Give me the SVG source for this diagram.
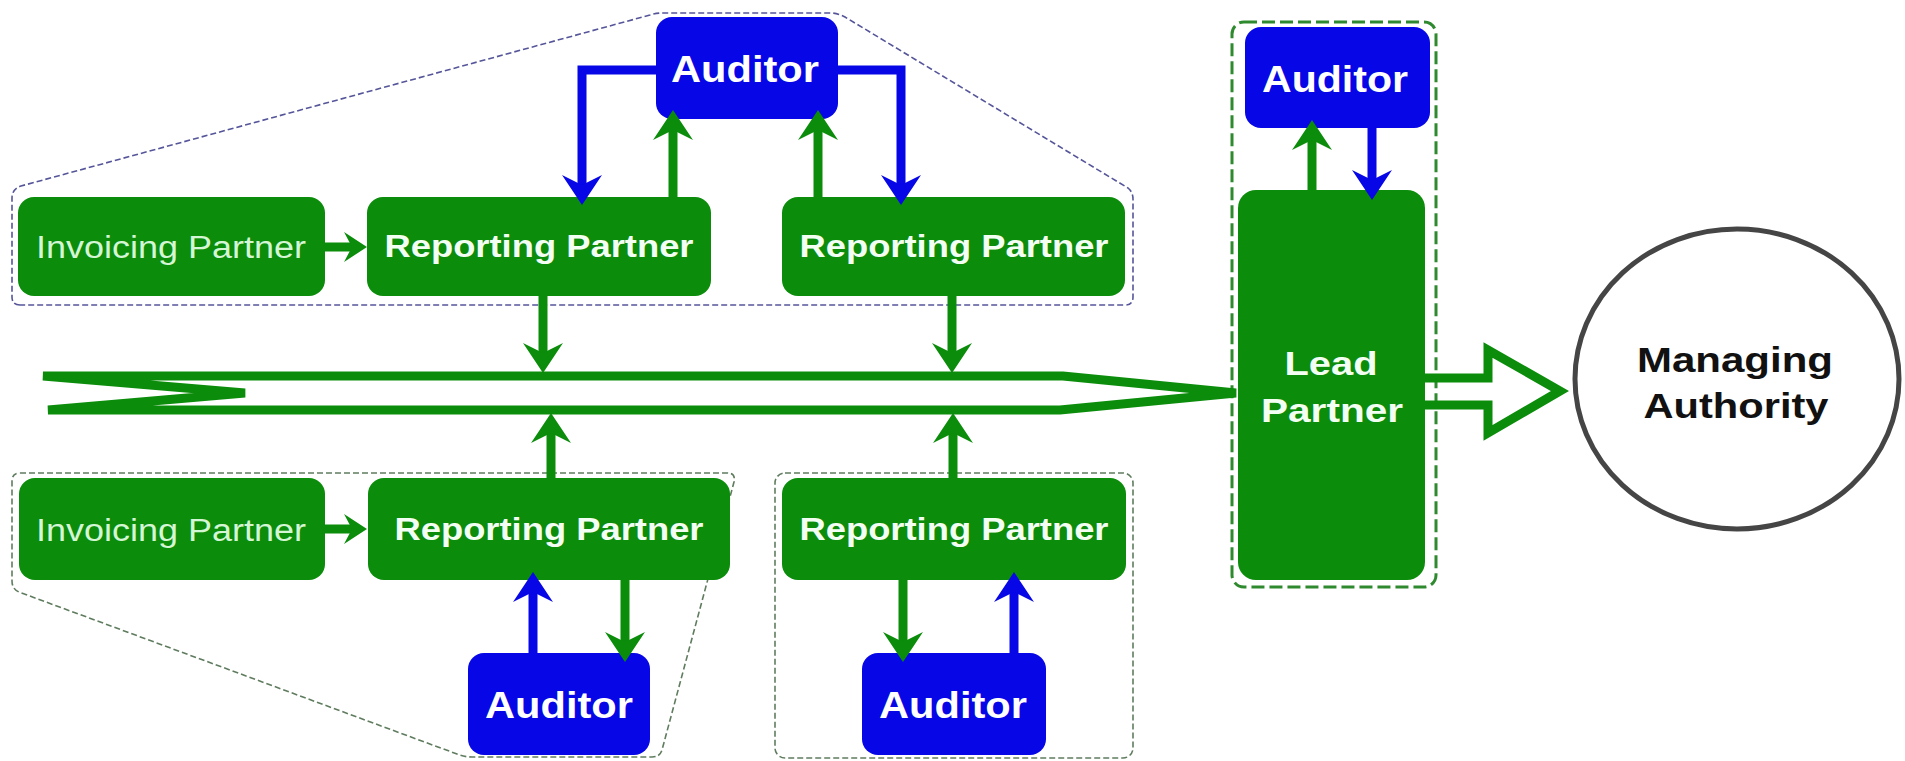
<svg xmlns="http://www.w3.org/2000/svg" width="1905" height="761" viewBox="0 0 1905 761">
  <style>
    .partner { fill: #0b8c0b; }
    .auditor { fill: #0606e6; }
    .t { font-family: "Liberation Sans", Arial, sans-serif; text-anchor: middle; }
    .tb { font-weight: bold; fill: #f4fff4; }
    .tr { font-weight: normal; fill: #d4f6d4; }
    .ta { font-weight: bold; fill: #ffffff; }
    .tm { font-weight: bold; fill: #111111; }
    .g { stroke: #0b8c0b; stroke-width: 9; fill: none; }
    .b { stroke: #0606e6; stroke-width: 9; fill: none; }
    .ga { marker-end: url(#arrow-g); }
    .ba { marker-end: url(#arrow-b); }
    .gs { marker-end: url(#arrow-gs); }
    .zone-blue { fill: none; stroke: #55559a; stroke-width: 1.6; stroke-dasharray: 6 3; }
    .zone-grey { fill: none; stroke: #5f7c5f; stroke-width: 1.6; stroke-dasharray: 6 3; }
    .zone-lead { fill: none; stroke: #2f8a2f; stroke-width: 3; stroke-dasharray: 13 5; }
  </style>
  <defs>
    <marker id="arrow-g" markerUnits="userSpaceOnUse" viewBox="-20 -22 34 44" refX="0" refY="0" markerWidth="34" markerHeight="44" orient="auto" overflow="visible">
      <path d="M12,0 L-18,-20 L-8,0 L-18,20 Z" fill="#0b8c0b"/>
    </marker>
    <marker id="arrow-b" markerUnits="userSpaceOnUse" viewBox="-20 -22 34 44" refX="0" refY="0" markerWidth="34" markerHeight="44" orient="auto" overflow="visible">
      <path d="M12,0 L-18,-20 L-8,0 L-18,20 Z" fill="#0606e6"/>
    </marker>
    <marker id="arrow-gs" markerUnits="userSpaceOnUse" viewBox="-16 -17 27 34" refX="0" refY="0" markerWidth="27" markerHeight="34" orient="auto" overflow="visible">
      <path d="M9,0 L-14,-15 L-6,0 L-14,15 Z" fill="#0b8c0b"/>
    </marker>
  </defs>

  <rect width="1905" height="761" fill="#ffffff"/>

  <!-- grouping outlines -->
  <g id="zones">
    <path id="zone-top" class="zone-blue" d="M20,305 Q12,305 12,297 L12,198 Q12,189 21,186 L650,15 Q656,13 662,13 L830,13 Q838,13 845,17 L1128,188 Q1133,192 1133,199 L1133,297 Q1133,305 1125,305 Z"/>
    <path id="zone-bottom-left" class="zone-grey" d="M20,473 L727,473 Q736,473 734,482 L662,750 Q660,757 652,757 L472,757 Q464,757 457,754 L19,592 Q12,589 12,581 L12,481 Q12,473 20,473 Z"/>
    <rect id="zone-bottom-mid" class="zone-grey" x="775" y="473" width="358" height="285" rx="10"/>
    <rect id="zone-lead" class="zone-lead" x="1232" y="22" width="204" height="565" rx="12"/>
  </g>

  <!-- upper row -->
  <g id="invoicing-top">
    <rect class="partner" x="18" y="197" width="307" height="99" rx="16"/>
    <text class="t tr" x="171" y="258" font-size="31" textLength="270" lengthAdjust="spacingAndGlyphs">Invoicing Partner</text>
  </g>
  <g id="reporting-top-left">
    <rect class="partner" x="367" y="197" width="344" height="99" rx="16"/>
    <text class="t tb" x="539" y="257" font-size="31" textLength="309" lengthAdjust="spacingAndGlyphs">Reporting Partner</text>
  </g>
  <g id="reporting-top-right">
    <rect class="partner" x="782" y="197" width="343" height="99" rx="16"/>
    <text class="t tb" x="954" y="257" font-size="31" textLength="309" lengthAdjust="spacingAndGlyphs">Reporting Partner</text>
  </g>
  <g id="auditor-top">
    <rect class="auditor" x="656" y="17" width="182" height="102" rx="16"/>
    <text class="t ta" x="745" y="82" font-size="37" textLength="148" lengthAdjust="spacingAndGlyphs">Auditor</text>
  </g>

  <!-- lower row -->
  <g id="invoicing-bottom">
    <rect class="partner" x="19" y="478" width="306" height="102" rx="16"/>
    <text class="t tr" x="171" y="541" font-size="31" textLength="270" lengthAdjust="spacingAndGlyphs">Invoicing Partner</text>
  </g>
  <g id="reporting-bottom-left">
    <rect class="partner" x="368" y="478" width="362" height="102" rx="16"/>
    <text class="t tb" x="549" y="540" font-size="31" textLength="309" lengthAdjust="spacingAndGlyphs">Reporting Partner</text>
  </g>
  <g id="auditor-bottom-left">
    <rect class="auditor" x="468" y="653" width="182" height="102" rx="16"/>
    <text class="t ta" x="559" y="718" font-size="37" textLength="148" lengthAdjust="spacingAndGlyphs">Auditor</text>
  </g>
  <g id="reporting-bottom-right">
    <rect class="partner" x="782" y="478" width="344" height="102" rx="16"/>
    <text class="t tb" x="954" y="540" font-size="31" textLength="309" lengthAdjust="spacingAndGlyphs">Reporting Partner</text>
  </g>
  <g id="auditor-bottom-right">
    <rect class="auditor" x="862" y="653" width="184" height="102" rx="16"/>
    <text class="t ta" x="953" y="718" font-size="37" textLength="148" lengthAdjust="spacingAndGlyphs">Auditor</text>
  </g>

  <!-- lead partner column -->
  <g id="auditor-lead">
    <rect class="auditor" x="1245" y="27" width="185" height="101" rx="16"/>
    <text class="t ta" x="1335" y="92" font-size="37" textLength="146" lengthAdjust="spacingAndGlyphs">Auditor</text>
  </g>
  <g id="lead-partner">
    <rect class="partner" x="1238" y="190" width="187" height="390" rx="18"/>
    <text class="t tb" x="1331" y="375" font-size="33" textLength="93" lengthAdjust="spacingAndGlyphs">Lead</text>
    <text class="t tb" x="1332" y="422" font-size="33" textLength="142" lengthAdjust="spacingAndGlyphs">Partner</text>
  </g>

  <!-- authority -->
  <g id="managing-authority">
    <ellipse cx="1737" cy="379" rx="162" ry="150" fill="#ffffff" stroke="#454545" stroke-width="5"/>
    <text class="t tm" x="1735" y="372" font-size="35" textLength="196" lengthAdjust="spacingAndGlyphs">Managing</text>
    <text class="t tm" x="1736" y="418" font-size="35" textLength="185" lengthAdjust="spacingAndGlyphs">Authority</text>
  </g>

  <g id="connectors">
    <!-- reporting channel towards the lead partner -->
    <path class="g" stroke-width="10" d="M1236,393 L1063,376 L43,376 L245,393 L48,410 L1060,410 Z"/>
    <!-- lead partner to managing authority -->
    <path class="g" d="M1425,378 H1488 V350 L1560,391 L1488,433 V405 H1425" fill="#ffffff"/>

    <!-- invoicing to reporting -->
    <path class="g gs" d="M325,247 H358"/>
    <path class="g gs" d="M325,529 H358"/>

    <!-- upper auditor loop -->
    <path class="b ba" d="M656,70 H582 V193"/>
    <path class="b ba" d="M838,70 H901 V193"/>
    <path class="g ga" d="M673,197 V122"/>
    <path class="g ga" d="M818,197 V122"/>

    <!-- lead auditor loop -->
    <path class="g ga" d="M1312,190 V132"/>
    <path class="b ba" d="M1372,128 V188"/>

    <!-- reporting partners into the channel -->
    <path class="g ga" d="M543,296 V361"/>
    <path class="g ga" d="M952,296 V361"/>
    <path class="g ga" d="M551,478 V425"/>
    <path class="g ga" d="M953,478 V425"/>

    <!-- lower auditor loops -->
    <path class="b ba" d="M533,653 V584"/>
    <path class="g ga" d="M625,580 V650"/>
    <path class="g ga" d="M903,580 V650"/>
    <path class="b ba" d="M1014,653 V584"/>
  </g>
</svg>
